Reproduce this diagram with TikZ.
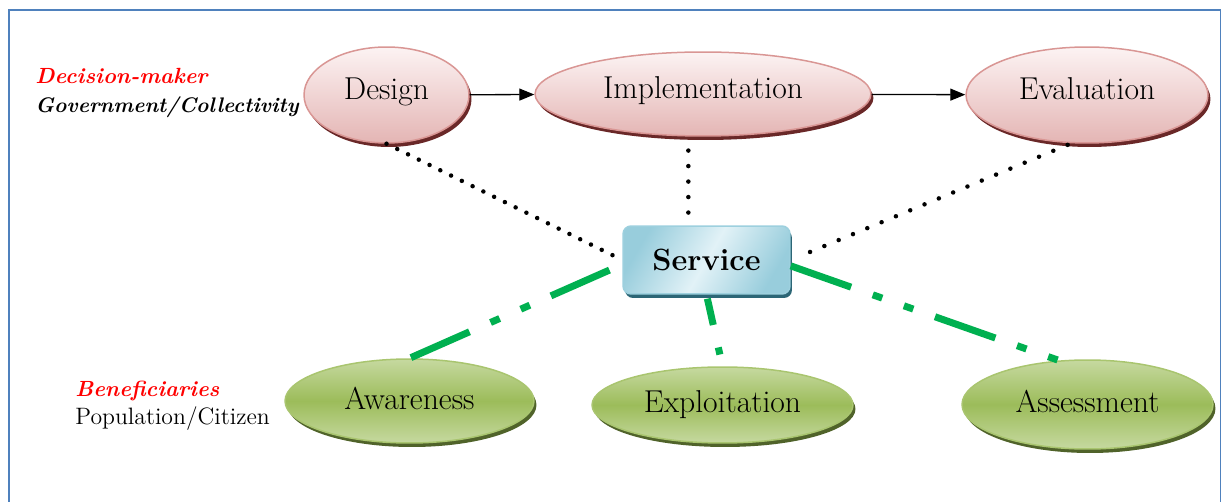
\documentclass[tikz,border=0pt]{standalone}
\usepackage{fontspec}
\usepackage{tikz}
\usetikzlibrary{arrows.meta, shapes.geometric, shadows}

\definecolor{frameblue}{HTML}{4F81BD}
\definecolor{roseline}{HTML}{D99694}
\definecolor{rosetop}{HTML}{FCF3F3}
\definecolor{rosebottom}{HTML}{E4B5B4}
\definecolor{roseshadow}{HTML}{6A2828}
\definecolor{leafline}{HTML}{A9C56F}
\definecolor{leaflight}{HTML}{C6D9A0}
\definecolor{leafmid}{HTML}{9CBC5A}
\definecolor{leafshadow}{HTML}{50632A}
\definecolor{skyline}{HTML}{9DD0DE}
\definecolor{skyedge}{HTML}{98CDDC}
\definecolor{skymid}{HTML}{E2F2F7}
\definecolor{skyshadow}{HTML}{2C6676}
\definecolor{linkgreen}{HTML}{00B050}

\tikzset{frame/.style = {draw = frameblue, line width = 0.03cm},
         role/.style = {anchor = base west, inner sep = 0pt,
                        font = \bfseries\itshape\fontsize{12.5}{15}\selectfont},
         decision/.style = {ellipse, draw = roseline, line width = 0.03cm,
                            top color = rosetop, bottom color = rosebottom,
                            inner sep = 0pt, text depth = 0.24cm,
                            font = \fontsize{18}{21}\selectfont,
                            general shadow = {shadow xshift = 0.05cm,
                                              shadow yshift = -0.08cm,
                                              fill = roseshadow}},
         benefit/.style = {ellipse, draw = leafline, line width = 0.03cm,
                           top color = leaflight, bottom color = leaflight,
                           middle color = leafmid,
                           inner sep = 0pt, text depth = 0.12cm,
                           font = \fontsize{18}{21}\selectfont,
                           general shadow = {shadow xshift = 0.05cm,
                                             shadow yshift = -0.08cm,
                                             fill = leafshadow}},
         service box/.style = {rectangle, rounded corners = 0.16cm,
                               draw = skyline, line width = 0.03cm,
                               top color = skyedge, bottom color = skyedge,
                               middle color = skymid, shading angle = 60,
                               minimum width = 3.34cm, minimum height = 1.36cm,
                               font = \bfseries\fontsize{17.5}{20}\selectfont,
                               general shadow = {shadow xshift = 0.04cm,
                                                 shadow yshift = -0.08cm,
                                                 fill = skyshadow}},
         flow/.style = {line width = 0.026cm,
                        -{Triangle[length = 0.3cm, width = 0.24cm]}},
         dotline/.style = {line width = 0.09cm, line cap = round,
                           dash pattern = on 0pt off 0.31cm},
         linkline/.style = {draw = linkgreen, line width = 0.14cm,
                            dash pattern = on 1.28cm off 0.46cm on 0.2cm
                                           off 0.46cm on 0.2cm off 0.46cm}}

\begin{document}
\begin{tikzpicture}[x = 0.02cm, y = -0.02cm]
    \useasboundingbox (0,0) rectangle (1223,502);
    \draw[frame] (9,502) -- (9,10) -- (1220.5,10) -- (1220.5,502);

    % who decides / who benefits
    \node[role, text = red]   (maker)   at (35,84)  {Decision-maker};
    \node[role, font = \bfseries\itshape\fontsize{12}{14}\selectfont]
                              (gov)     at (35,113) {Government/Collectivity};
    \node[role, text = red]   (benef)   at (75,397) {Beneficiaries};
    \node[role, font = \fontsize{13.5}{16}\selectfont]
                              (people)  at (75,425) {Population/Citizen};

    % decision-maker cycle
    \node[decision, minimum width = 3.3cm,  minimum height = 1.92cm]
        (design) at (386.5,95) {Design};
    \node[decision, minimum width = 6.72cm, minimum height = 1.68cm]
        (impl)   at (703,94)   {Implementation};
    \node[decision, minimum width = 4.84cm, minimum height = 1.92cm]
        (eval)   at (1087,95)  {Evaluation};

    \node[service box] (service) at (706.5,260) {Service};

    % beneficiaries side
    \node[benefit, minimum width = 4.98cm, minimum height = 1.68cm]
        (aware)   at (409.5,401) {Awareness};
    \node[benefit, minimum width = 5.22cm, minimum height = 1.52cm]
        (exploit) at (722.5,405) {Exploitation};
    \node[benefit, minimum width = 5.02cm, minimum height = 1.78cm]
        (assess)  at (1087.5,404.5) {Assessment};

    \draw[flow] (design) -- (impl);
    \draw[flow] (impl)   -- (eval);

    \draw[dotline, dash pattern = on 0pt off 0.24cm, shorten > = 0.1cm]
        (design.south) -- (service.west);
    \draw[dotline, shorten < = 0.28cm, shorten > = 0.2cm]
        (impl.251) -- (impl.251 |- service.north);
    \draw[dotline, shorten < = 0.08cm, shorten > = 0.26cm]
        (eval.252) -- (service.east);

    \draw[linkline, shorten < = 0.28cm] (service.183) -- (aware.north);
    \draw[linkline, dash phase = 0.74cm, shorten < = 0.08cm, shorten > = 0.24cm]
        (service.south) -- (exploit.north);
    \draw[linkline] (service.-4) -- (assess.123);
\end{tikzpicture}
\end{document}
